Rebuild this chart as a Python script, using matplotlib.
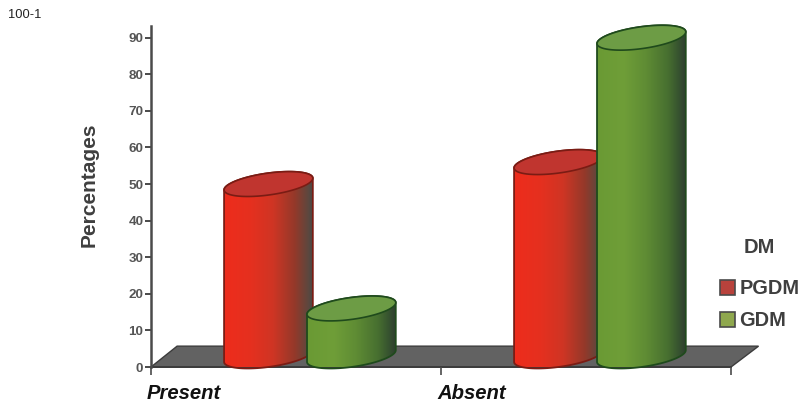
import numpy as np
import matplotlib
matplotlib.use("Agg")
import matplotlib.pyplot as plt
from matplotlib.colors import LinearSegmentedColormap
from matplotlib.patches import Polygon, PathPatch, Patch
from matplotlib.path import Path
from matplotlib.transforms import ScaledTranslation

plt.rcParams['font.family'] = ['Liberation Sans', 'DejaVu Sans']

categories = ["Present", "Absent"]
series_names = ["PGDM", "GDM"]
pgdm_values = [47, 53]
gdm_values = [13, 87]
y_ticks = [0, 10, 20, 30, 40, 50, 60, 70, 80, 90]

red_stops = [(0.0, "#ee2c1c"), (0.3, "#e5301f"), (0.55, "#cf3524"),
             (0.8, "#93392a"), (0.93, "#64463c"), (1.0, "#4a4a46")]
green_stops = [(0.0, "#6a9a34"), (0.3, "#6f9e38"), (0.55, "#5f8c34"),
               (0.8, "#476f30"), (0.93, "#35502f"), (1.0, "#2f3d30")]
lid_colors = {"PGDM": "#c0352f", "GDM": "#6d9c45"}
edge_colors = {"PGDM": "#7a1c14", "GDM": "#1f4a1c"}
swatch_colors = {"PGDM": "#b8423c", "GDM": "#8fa84e"}

TEXT_GREY = "#3f3f3f"
AXIS_GREY = "#4a4a4a"

fig = plt.figure(figsize=(8.02, 4.05), dpi=100, facecolor="white")
W, H = 802, 405
left, right, base, top = 151, 802, 367, 26
ax = fig.add_axes([left / W, (H - base) / H, (right - left) / W, (base - top) / H])
ax.set_xlim(0, (right - left) / 290)
ax.set_ylim(0, 93.2)
ax.patch.set_visible(False)

# Floor of the 3D scene
floor_depth_x, floor_depth_y = 0.09, 5.7
ax.add_patch(Polygon([(0, 0), (floor_depth_x, floor_depth_y),
                      (2 + floor_depth_x + 0.005, floor_depth_y), (2, 0)],
                     closed=True, facecolor="#626262", edgecolor="#3c3c3c",
                     linewidth=1.0, zorder=1, clip_on=False))

half_w = 0.153     # cylinder half width, x units
lid_b = 3.0        # lid half height, y units
lid_tilt = 1.6     # rise of the lid's right tip, y units
floor_level = 3.0  # centre of the cylinder base, y units
offset = 0.143
group_centre = 0.548


def lid_points(cx, cy, t):
    return np.column_stack([cx + half_w * np.cos(t),
                            cy + lid_b * np.sin(t) + lid_tilt * np.cos(t)])


def draw_cylinder(cx, value, stops, name, z):
    top_y = floor_level + value
    lower = lid_points(cx, floor_level, np.linspace(np.pi, 2 * np.pi, 60))
    upper = lid_points(cx, top_y, np.linspace(0, np.pi, 60))
    outline = np.vstack([lower, upper])
    body = PathPatch(Path(np.vstack([outline, outline[0]]), closed=True),
                     facecolor="none", edgecolor=edge_colors[name],
                     linewidth=1.3, zorder=z + 0.2, clip_on=False)
    ax.add_patch(body)
    cmap = LinearSegmentedColormap.from_list(name, stops)
    shade = np.linspace(0, 1, 256).reshape(1, -1)
    image = ax.imshow(shade, cmap=cmap, aspect="auto", zorder=z,
                      extent=[cx - half_w, cx + half_w,
                              floor_level - lid_b - 2, top_y + lid_b + 2])
    image.set_clip_box(None)
    image.set_clip_path(PathPatch(body.get_path(), transform=ax.transData))
    lid = lid_points(cx, top_y, np.linspace(0, 2 * np.pi, 120))
    ax.add_patch(Polygon(lid, closed=True, facecolor=lid_colors[name],
                         edgecolor=edge_colors[name], linewidth=1.2,
                         zorder=z + 0.3, clip_on=False))


for i in range(len(categories)):
    draw_cylinder(i + group_centre - offset, pgdm_values[i], red_stops, "PGDM", 2 + 2 * i)
    draw_cylinder(i + group_centre + offset, gdm_values[i], green_stops, "GDM", 3 + 2 * i)

ax.set_xlim(0, (right - left) / 290)
ax.set_ylim(0, 93.2)

for side in ("top", "right"):
    ax.spines[side].set_visible(False)
ax.spines["left"].set_color(AXIS_GREY)
ax.spines["left"].set_linewidth(1.8)
ax.spines["left"].set_zorder(10)
ax.spines["bottom"].set_color("#3c3c3c")
ax.spines["bottom"].set_linewidth(1.4)
ax.spines["bottom"].set_bounds(0, 2)
ax.spines["bottom"].set_zorder(1.5)

ax.set_yticks(y_ticks)
ax.set_yticklabels([str(v) for v in y_ticks], fontsize=9.7, fontweight="bold",
                   color="#555555")
ax.tick_params(axis="y", length=4, width=1.4, color=AXIS_GREY, pad=1.5)

ax.set_xticks([0, 1, 2])
ax.set_xticklabels(categories + [""], fontsize=14.6, fontweight="bold",
                   fontstyle="italic", color="#111111", ha="left")
ax.tick_params(axis="x", length=6, width=1.2, color=AXIS_GREY, pad=6.5)
for lbl in ax.get_xticklabels():
    lbl.set_transform(lbl.get_transform() + ScaledTranslation(-4 / 100, 0, fig.dpi_scale_trans))

fig.text(89 / W, 1 - 185 / H, "Percentages", rotation=90, ha="center", va="center",
         fontsize=15, fontweight="bold", color=TEXT_GREY)
fig.text(8 / W, 1 - 15 / H, "100-1", ha="left", va="center", fontsize=9.3, color="#222222")

handles = [Patch(facecolor=swatch_colors[n], edgecolor="#4a4a4a", linewidth=1.2) for n in series_names]
legend = fig.legend(handles, series_names, title="DM", frameon=False,
                    loc="upper left", bbox_to_anchor=(720 / W, 1 - 238 / H),
                    borderpad=0, borderaxespad=0, handlelength=0.74, handleheight=0.82,
                    handletextpad=0.22, labelspacing=0.66,
                    prop={"size": 14.4, "weight": "bold"},
                    title_fontproperties={"size": 14.5, "weight": "bold"})
legend.get_title().set_color(TEXT_GREY)
legend._legend_box.sep = 16
for text in legend.get_texts():
    text.set_color(TEXT_GREY)

fig.savefig("out.png", dpi=100, facecolor="white")
